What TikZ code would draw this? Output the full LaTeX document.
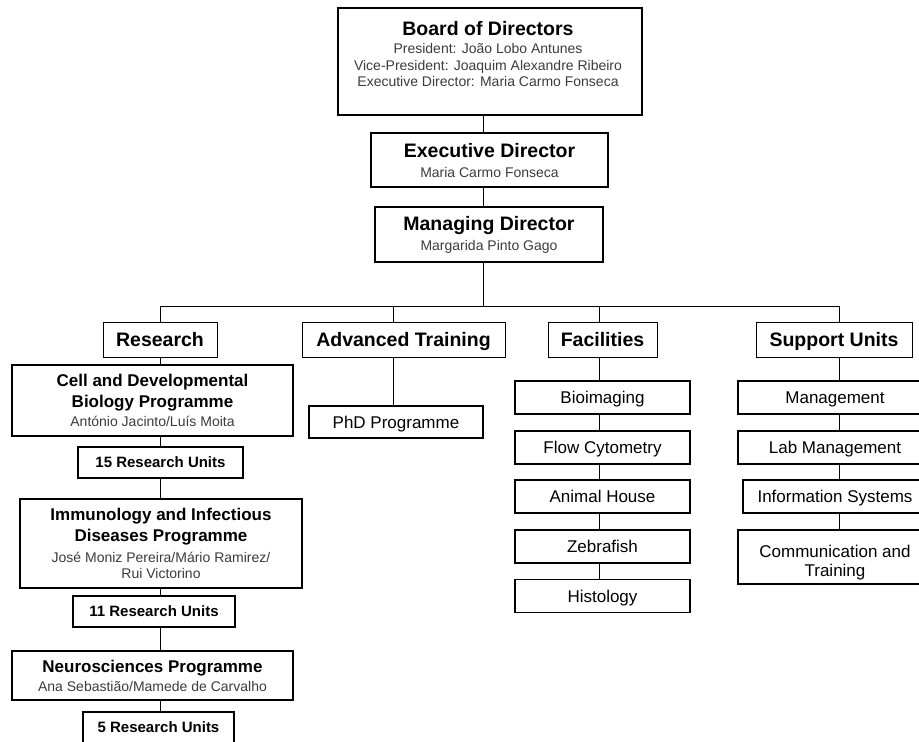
\documentclass[tikz,border=0pt]{standalone}
\usepackage{fontspec}
\setmainfont{Liberation Sans}
\definecolor{namegray}{HTML}{3C3C3C}
\newcommand\headf{\fontsize{19.5}{22}\selectfont\bfseries}
\newcommand\namef{\fontsize{14}{16}\selectfont\color{namegray}}
\newcommand\progf{\fontsize{17}{20}\selectfont\bfseries}
\newcommand\unitf{\fontsize{15}{17}\selectfont\bfseries}
\begin{document}
\begin{tikzpicture}[x=1pt,y=-1pt,
  box/.style={draw=black, line width=1.8pt, rectangle, inner sep=0pt, align=center, text=black, font=\fontsize{14}{16}\selectfont},
  hbox/.style={draw=black, line width=0.9pt, rectangle, inner sep=0pt, align=center, minimum height=35, font=\headf, text height=17pt, text depth=3pt},
  cbox/.style={box, font=\fontsize{17}{19}\selectfont},
  child/.style={cbox, text height=15pt, text depth=2.8pt},
  unitbox/.style={box, minimum height=31, font=\unitf, text height=13.5pt, text depth=2.8pt},
  conn/.style={draw=black, line width=1pt}]
\path[use as bounding box, clip] (0,0) rectangle (919,742);
\fill[white] (0,0) rectangle (919,742);

% top
\node[box, minimum width=304, minimum height=107] (board) at (490,61.5) {};
\node[align=center, inner sep=0pt, font=\fontsize{14}{16.5}\selectfont] (boardtxt) at (488,54)
  {{\headf Board of Directors}\\[1.5pt]{\namef President: João Lobo Antunes}\\{\namef Vice-President: Joaquim Alexandre Ribeiro}\\{\namef Executive Director: Maria Carmo Fonseca}};
\node[box, minimum width=237, minimum height=54] (exec) at (489.5,160)
  {{\headf Executive Director}\\[4pt]{\namef Maria Carmo Fonseca}};
\node[box, minimum width=228, minimum height=55] (mgr) at (489,234.5)
  {{\headf Managing Director}\\[4pt]{\namef Margarida Pinto Gago}};

% headings
\node[hbox, minimum width=114] (research) at (160,339.5) {Research};
\node[hbox, minimum width=203] (adv) at (403.5,339.5) {Advanced Training};
\node[hbox, minimum width=109] (fac) at (602.5,339.5) {Facilities};
\node[hbox, minimum width=156] (sup) at (834,339.5) {Support Units};

% research column
\node[box, minimum width=281, minimum height=71] (cell) at (152.5,400.5)
  {{\progf Cell and Developmental}\\[5pt]{\progf Biology Programme}\\[3pt]{\namef António Jacinto/Luís Moita}};
\node[unitbox, minimum width=165] (u15) at (160.5,462.5) {15 Research Units};
\node[box, minimum width=282, minimum height=89] (imm) at (161,543.5)
  {{\progf Immunology and Infectious}\\[5pt]{\progf Diseases Programme}\\[5pt]{\namef José Moniz Pereira/Mário Ramirez/}\\{\namef Rui Victorino}};
\node[unitbox, minimum width=162] (u11) at (154,611.5) {11 Research Units};
\node[box, minimum width=281, minimum height=49] (neuro) at (152.5,675.5)
  {{\progf Neurosciences Programme}\\[3pt]{\namef Ana Sebastião/Mamede de Carvalho}};
\node[unitbox, minimum width=151] (u5) at (158.5,727.5) {5 Research Units};

% advanced training
\node[child, minimum width=174, minimum height=32] (phd) at (396,422) {PhD Programme};

% facilities
\node[child, minimum width=175, minimum height=33] (bio) at (602.5,397.5) {Bioimaging};
\node[child, minimum width=175, minimum height=33] (flow) at (602.5,447.5) {Flow Cytometry};
\node[child, minimum width=175, minimum height=33] (animal) at (602.5,496.5) {Animal House};
\node[child, minimum width=175, minimum height=33] (zebra) at (602.5,546.5) {Zebrafish};
\node[child, minimum width=175, minimum height=33] (histo) at (602.5,596) {Histology};

% support units
\node[child, minimum width=194, minimum height=33] (mgmt) at (835,397.5) {Management};
\node[child, minimum width=194, minimum height=33] (lab) at (835,447.5) {Lab Management};
\node[child, minimum width=184, minimum height=33] (info) at (835,496.5) {Information Systems};
\node[cbox, minimum width=194, minimum height=54] (comm) at (835,557) {\rule{0pt}{23pt}Communication and\\Training};

% connectors
\coordinate (spine) at (483,306);
\coordinate (cR) at (160,306);
\coordinate (cA) at (393,306);
\coordinate (cF) at (599,306);
\coordinate (cS) at (839,306);
\draw[conn] (board.south -| spine) -- (exec.north -| spine);
\draw[conn] (exec.south -| spine) -- (mgr.north -| spine);
\draw[conn] (mgr.south -| spine) -- (spine);
\draw[conn] (cR) -- (cS);
\draw[conn] (cR) -- (cR |- research.north);
\draw[conn] (cA) -- (cA |- adv.north);
\draw[conn] (cF) -- (cF |- fac.north);
\draw[conn] (cS) -- (cS |- sup.north);
\foreach \a/\b in {research/cell, cell/u15, u15/imm, imm/u11, u11/neuro, neuro/u5}
  \draw[conn] (cR |- \a.south) -- (cR |- \b.north);
\draw[conn] (cA |- adv.south) -- (cA |- phd.north);
\foreach \a/\b in {fac/bio, bio/flow, flow/animal, animal/zebra, zebra/histo}
  \draw[conn] (cF |- \a.south) -- (cF |- \b.north);
\foreach \a/\b in {sup/mgmt, mgmt/lab, lab/info, info/comm}
  \draw[conn] (cS |- \a.south) -- (cS |- \b.north);
\end{tikzpicture}
\end{document}
